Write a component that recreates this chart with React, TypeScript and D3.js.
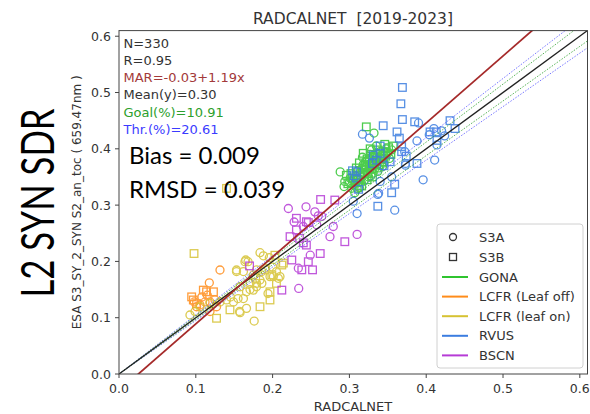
import React from "react";
import * as d3 from "d3";

type P = [number, number];

// ---- Data (RADCALNET x, SYN SDR y) ----
const gonaS3A: P[] = [
  [0.288, 0.359], [0.294, 0.342], [0.293, 0.333], [0.332, 0.428], [0.3, 0.34], [0.305, 0.345],
  [0.308, 0.352], [0.31, 0.36], [0.312, 0.34], [0.315, 0.35], [0.316, 0.365], [0.318, 0.372],
  [0.32, 0.355], [0.322, 0.368], [0.324, 0.38], [0.326, 0.362], [0.328, 0.375], [0.33, 0.385],
  [0.332, 0.37], [0.334, 0.392], [0.336, 0.38], [0.338, 0.366], [0.34, 0.395], [0.342, 0.388],
  [0.345, 0.375], [0.348, 0.4], [0.35, 0.392], [0.352, 0.383], [0.355, 0.398], [0.303, 0.33],
  [0.307, 0.322], [0.313, 0.331], [0.319, 0.343], [0.325, 0.35], [0.331, 0.357], [0.337, 0.36],
  [0.343, 0.368], [0.306, 0.337], [0.314, 0.357], [0.321, 0.377], [0.327, 0.39], [0.317, 0.385],
  [0.329, 0.398], [0.335, 0.405], [0.31, 0.33], [0.323, 0.36], [0.333, 0.365], [0.339, 0.385],
  [0.311, 0.348], [0.319, 0.362], [0.326, 0.383], [0.331, 0.376], [0.344, 0.382], [0.349, 0.394],
  [0.301, 0.348], [0.315, 0.341], [0.328, 0.352], [0.336, 0.371],
];
const gonaS3B: P[] = [
  [0.322, 0.439], [0.296, 0.353], [0.298, 0.338], [0.304, 0.348], [0.309, 0.366], [0.311, 0.345],
  [0.317, 0.358], [0.32, 0.37], [0.323, 0.382], [0.326, 0.372], [0.329, 0.365], [0.333, 0.378],
  [0.336, 0.39], [0.339, 0.372], [0.341, 0.383], [0.344, 0.395], [0.347, 0.387], [0.351, 0.402],
  [0.354, 0.39], [0.316, 0.334], [0.323, 0.345], [0.33, 0.35], [0.318, 0.392], [0.327, 0.4],
  [0.337, 0.398], [0.346, 0.408], [0.357, 0.405], [0.302, 0.356], [0.313, 0.375], [0.324, 0.356],
  [0.308, 0.34], [0.321, 0.366], [0.334, 0.386], [0.342, 0.377],
];
const lcfrOffS3A: P[] = [
  [0.1315, 0.1847], [0.1176, 0.162], [0.1055, 0.1226], [0.112, 0.128], [0.101, 0.1195],
  [0.1185, 0.128], [0.127, 0.1195], [0.1185, 0.111], [0.125, 0.1315], [0.108, 0.137],
  [0.115, 0.14], [0.098, 0.128],
];
const lcfrOffS3B: P[] = [
  [0.0946, 0.137], [0.0968, 0.1315], [0.1098, 0.149], [0.114, 0.146], [0.123, 0.146], [0.101, 0.125],
];
const lcfrOnS3A: P[] = [
  [0.1836, 0.2155], [0.165, 0.2025], [0.153, 0.182], [0.176, 0.094], [0.157, 0.111], [0.166, 0.1166],
  [0.149, 0.128], [0.0924, 0.1048], [0.175, 0.149], [0.162, 0.134], [0.1836, 0.167], [0.1966, 0.173],
  [0.205, 0.182], [0.1905, 0.188], [0.2096, 0.173], [0.1706, 0.161], [0.1576, 0.155], [0.179, 0.185],
  [0.1576, 0.109], [0.164, 0.1995], [0.1957, 0.2066], [0.201, 0.173], [0.194, 0.143], [0.1706, 0.15],
  [0.179, 0.161], [0.166, 0.146], [0.155, 0.134], [0.14, 0.1315], [0.1315, 0.128], [0.1185, 0.1255],
  [0.1055, 0.1195], [0.099, 0.111], [0.168, 0.1995], [0.153, 0.1847], [0.162, 0.182], [0.175, 0.176],
  [0.186, 0.182], [0.2075, 0.17], [0.186, 0.161], [0.179, 0.155], [0.2, 0.19], [0.145, 0.137], [0.188, 0.21],
];
const lcfrOnS3B: P[] = [
  [0.0977, 0.214], [0.1445, 0.114], [0.127, 0.099], [0.1836, 0.1195], [0.1966, 0.146], [0.205, 0.161],
  [0.214, 0.197], [0.14, 0.3297], [0.1966, 0.1315], [0.212, 0.1936], [0.199, 0.176], [0.203, 0.211],
  [0.19, 0.185], [0.178, 0.17],
];
const rvusS3A: P[] = [
  [0.317, 0.426], [0.326, 0.419], [0.39, 0.446], [0.41, 0.436], [0.424, 0.423], [0.414, 0.407],
  [0.372, 0.395], [0.373, 0.374], [0.411, 0.38], [0.396, 0.345], [0.355, 0.35], [0.34, 0.342],
  [0.338, 0.321], [0.388, 0.414], [0.359, 0.291], [0.337, 0.319], [0.31, 0.285], [0.305, 0.307],
  [0.373, 0.371], [0.404, 0.425], [0.42, 0.432],
];
const rvusS3B: P[] = [
  [0.369, 0.509], [0.367, 0.48], [0.369, 0.452], [0.344, 0.441], [0.362, 0.43], [0.385, 0.448],
  [0.431, 0.45], [0.4375, 0.436], [0.413, 0.43], [0.365, 0.419], [0.34, 0.405], [0.368, 0.404],
  [0.388, 0.374], [0.359, 0.337], [0.355, 0.322], [0.33, 0.374], [0.414, 0.415], [0.337, 0.298],
  [0.309, 0.359], [0.309, 0.348], [0.312, 0.328], [0.368, 0.395], [0.304, 0.361], [0.306, 0.352],
  [0.331, 0.389], [0.34, 0.392], [0.353, 0.377], [0.374, 0.387], [0.405, 0.43], [0.335, 0.38], [0.345, 0.37],
];
const bscnS3A: P[] = [
  [0.2205, 0.294], [0.2435, 0.297], [0.255, 0.288], [0.2747, 0.244], [0.279, 0.262], [0.31, 0.248],
  [0.2574, 0.265], [0.249, 0.211], [0.2335, 0.188], [0.234, 0.152], [0.2595, 0.281], [0.264, 0.28],
  [0.24, 0.262], [0.228, 0.27],
];
const bscnS3B: P[] = [
  [0.2625, 0.31], [0.281, 0.309], [0.231, 0.2766], [0.2465, 0.269], [0.231, 0.256], [0.2227, 0.244],
  [0.235, 0.241], [0.244, 0.229], [0.262, 0.214], [0.294, 0.235], [0.225, 0.2025], [0.252, 0.185],
  [0.212, 0.149], [0.17, 0.192], [0.24, 0.233], [0.2465, 0.1995], [0.244, 0.2705], [0.238, 0.185],
];

const ticks = [0, 0.1, 0.2, 0.3, 0.4, 0.5, 0.6];
const statsLines = [
  { text: "N=330", color: "#333333" },
  { text: "R=0.95", color: "#333333" },
  { text: "MAR=-0.03+1.19x", color: "#a33a3a" },
  { text: "Mean(y)=0.30", color: "#333333" },
  { text: "Goal(%)=10.91", color: "#2ca02c" },
  { text: "Thr.(%)=20.61", color: "#3b3bff" },
];
const marIntercept = -0.03;
const marSlope = 1.19;
const goalPct = 0.03;
const thrPct = 0.05;

const sites = [
  { name: "GONA", color: "#2fc42f", a: gonaS3A, b: gonaS3B },
  { name: "LCFR (Leaf off)", color: "#ff8c1a", a: lcfrOffS3A, b: lcfrOffS3B },
  { name: "LCFR (leaf on)", color: "#d6c232", a: lcfrOnS3A, b: lcfrOnS3B },
  { name: "RVUS", color: "#3b7de0", a: rvusS3A, b: rvusS3B },
  { name: "BSCN", color: "#b63bd6", a: bscnS3A, b: bscnS3B },
];
const drawOrder = [1, 2, 4, 0, 3];

export default function App() {
  const W = 590, H = 414;
  const x = d3.scaleLinear().domain([0, 0.61]).range([119, 587.5]);
  const y = d3.scaleLinear().domain([0, 0.61]).range([374, 30.6]);
  const [x0, x1] = x.range();
  const [y0, y1] = y.range();
  const font = "'DejaVu Sans', sans-serif";
  const line = d3.line<P>().x((d) => x(d[0])).y((d) => y(d[1]));
  const band = (k: number): P[] => [[0, 0], [0.61, 0.61 * k]];

  return (
    <svg width={W} height={H} style={{ position: "absolute", left: 0, top: 0, background: "#fff" }} fontFamily={font}>
      <defs>
        <clipPath id="plot">
          <rect x={x0} y={y1} width={x1 - x0} height={y0 - y1} />
        </clipPath>
      </defs>
      <rect x={0} y={0} width={W} height={H} fill="#fff" />
      <text x={353} y={24} textAnchor="middle" fontSize={15.5} fill="#333" style={{ whiteSpace: "pre" }}>
        {"RADCALNET  [2019-2023]"}
      </text>

      <g clipPath="url(#plot)">
        {drawOrder.map((si) => {
          const s = sites[si];
          return (
            <g key={s.name} stroke={s.color} fill="none" strokeWidth={1.3} opacity={0.85}>
              {s.a.map((d, i) => (
                <circle key={"a" + i} cx={x(d[0])} cy={y(d[1])} r={4} />
              ))}
              {s.b.map((d, i) => (
                <rect key={"b" + i} x={x(d[0]) - 3.8} y={y(d[1]) - 3.8} width={7.6} height={7.6} />
              ))}
            </g>
          );
        })}
        <path d={line(band(1 + thrPct)) || ""} stroke="#5555ff" strokeWidth={0.8} strokeDasharray="1.5,1.5" fill="none" />
        <path d={line(band(1 - thrPct)) || ""} stroke="#5555ff" strokeWidth={0.8} strokeDasharray="1.5,1.5" fill="none" />
        <path d={line(band(1 + goalPct)) || ""} stroke="#2ca02c" strokeWidth={0.8} strokeDasharray="1.5,1.5" fill="none" />
        <path d={line(band(1 - goalPct)) || ""} stroke="#2ca02c" strokeWidth={0.8} strokeDasharray="1.5,1.5" fill="none" />
        <path d={line(band(1)) || ""} stroke="#222" strokeWidth={1.3} fill="none" />
        <path
          d={line([[0, marIntercept], [0.61, marIntercept + marSlope * 0.61]]) || ""}
          stroke="#a52a2a" strokeWidth={1.8} fill="none"
        />
      </g>

      <rect x={x0} y={y1} width={x1 - x0} height={y0 - y1} fill="none" stroke="#444" strokeWidth={1} />

      {ticks.map((t) => (
        <g key={"x" + t}>
          <line x1={x(t)} x2={x(t)} y1={y0} y2={y0 + 4} stroke="#444" />
          <text x={x(t)} y={393} textAnchor="middle" fontSize={12.5} fill="#333">{t.toFixed(1)}</text>
          <line x1={x0 - 4} x2={x0} y1={y(t)} y2={y(t)} stroke="#444" />
          <text x={111} y={y(t) + 4.5} textAnchor="end" fontSize={12.5} fill="#333">{t.toFixed(1)}</text>
        </g>
      ))}
      <text x={353} y={411} textAnchor="middle" fontSize={13} fill="#333">RADCALNET</text>
      <text transform={`translate(81,${(y0 + y1) / 2}) rotate(-90)`} textAnchor="middle" fontSize={12} fill="#333">
        ESA S3_SY_2_SYN S2_an_toc ( 659.47nm )
      </text>

      {statsLines.map((s, i) => (
        <text key={s.text} x={123.5} y={47.5 + i * 17.3} fontSize={13} fill={s.color}>{s.text}</text>
      ))}

      <text x={129} y={164} fontSize={24} fontFamily="Lato, sans-serif" fill="#000">Bias = 0.009</text>
      <text x={129} y={198} fontSize={24} fontFamily="Lato, sans-serif" fill="#000">RMSD = 0.039</text>

      <text
        transform={`translate(54,203) rotate(-90)`} textAnchor="middle" fontSize={46}
        fontFamily="Lato, sans-serif" fill="#000" textLength={189} lengthAdjust="spacingAndGlyphs"
      >L2 SYN SDR</text>

      <g>
        <rect x={437} y={224} width={146} height={144} rx={3} fill="#fff" fillOpacity={0.8} stroke="#d0d0d0" />
        <circle cx={453} cy={237} r={3.5} fill="none" stroke="#333" strokeWidth={1.3} />
        <text x={479} y={241.5} fontSize={13} fill="#333">S3A</text>
        <rect x={449.5} y={253.5} width={7} height={7} fill="none" stroke="#333" strokeWidth={1.3} />
        <text x={479} y={261.5} fontSize={13} fill="#333">S3B</text>
        {sites.map((s, i) => {
          const cy = 277 + i * 19.6;
          return (
            <g key={s.name}>
              <line x1={442} x2={468} y1={cy} y2={cy} stroke={s.color} strokeWidth={2} />
              <text x={479} y={cy + 4.5} fontSize={13} fill="#333">{s.name}</text>
            </g>
          );
        })}
      </g>
    </svg>
  );
}
